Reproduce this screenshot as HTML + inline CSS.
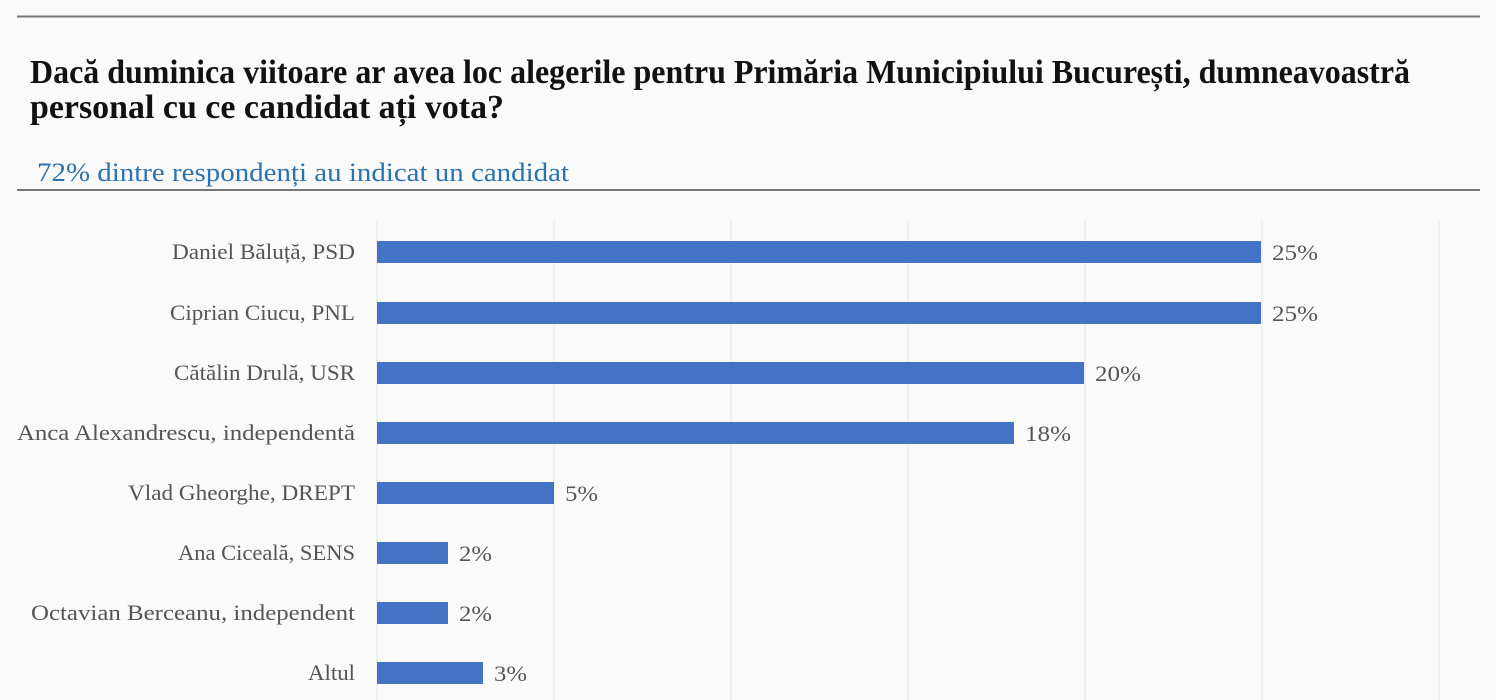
<!DOCTYPE html>
<html><head><meta charset="utf-8"><style>
html,body{margin:0;padding:0;background:#fafafa;}
svg{display:block;}
</style></head><body>
<svg width="1496" height="700" viewBox="0 0 1496 700" xmlns="http://www.w3.org/2000/svg">
<rect width="1496" height="700" fill="#fafafa"/>
<line x1="17" y1="16.5" x2="1480" y2="16.5" stroke="#777" stroke-width="2"/>
<g font-family="Liberation Serif, serif" font-weight="bold" font-size="34" fill="#111">
<text x="30" y="83" textLength="1380" lengthAdjust="spacingAndGlyphs">Dacă duminica viitoare ar avea loc alegerile pentru Primăria Municipiului București, dumneavoastră</text>
<text x="30" y="118" textLength="474" lengthAdjust="spacingAndGlyphs">personal cu ce candidat ați vota?</text>
</g>
<text x="37" y="181" font-family="Liberation Serif, serif" font-size="26" fill="#2a72b0" textLength="532" lengthAdjust="spacingAndGlyphs">72% dintre respondenți au indicat un candidat</text>
<line x1="17" y1="190" x2="1480" y2="190" stroke="#777" stroke-width="2"/>
<g stroke="#e6e6e6" stroke-width="1">
<line x1="377" y1="220" x2="377" y2="700"/><line x1="554" y1="220" x2="554" y2="700"/>
<line x1="731" y1="220" x2="731" y2="700"/><line x1="908" y1="220" x2="908" y2="700"/>
<line x1="1085" y1="220" x2="1085" y2="700"/><line x1="1262" y1="220" x2="1262" y2="700"/>
<line x1="1439" y1="220" x2="1439" y2="700"/>
</g>
<g fill="#4472c4">
<rect x="377" y="241" width="884" height="22"/>
<rect x="377" y="302" width="884" height="22"/>
<rect x="377" y="362" width="707" height="22"/>
<rect x="377" y="422" width="637" height="22"/>
<rect x="377" y="482" width="177" height="22"/>
<rect x="377" y="542" width="71" height="22"/>
<rect x="377" y="602" width="71" height="22"/>
<rect x="377" y="662" width="106" height="22"/>
</g>
<g font-family="Liberation Serif, serif" font-size="22" fill="#555" lengthAdjust="spacingAndGlyphs">
<text x="172" y="259" textLength="183" lengthAdjust="spacingAndGlyphs">Daniel Băluță, PSD</text>
<text x="170" y="320" textLength="185" lengthAdjust="spacingAndGlyphs">Ciprian Ciucu, PNL</text>
<text x="174" y="380" textLength="181" lengthAdjust="spacingAndGlyphs">Cătălin Drulă, USR</text>
<text x="17" y="440" textLength="338" lengthAdjust="spacingAndGlyphs">Anca Alexandrescu, independentă</text>
<text x="128" y="500" textLength="227" lengthAdjust="spacingAndGlyphs">Vlad Gheorghe, DREPT</text>
<text x="178" y="560" textLength="177" lengthAdjust="spacingAndGlyphs">Ana Ciceală, SENS</text>
<text x="31" y="620" textLength="324" lengthAdjust="spacingAndGlyphs">Octavian Berceanu, independent</text>
<text x="308" y="680" textLength="47" lengthAdjust="spacingAndGlyphs">Altul</text>
</g>
<g font-family="Liberation Serif, serif" font-size="22" fill="#555">
<text x="1272" y="260" textLength="46" lengthAdjust="spacingAndGlyphs">25%</text>
<text x="1272" y="321" textLength="46" lengthAdjust="spacingAndGlyphs">25%</text>
<text x="1095" y="381" textLength="46" lengthAdjust="spacingAndGlyphs">20%</text>
<text x="1025" y="441" textLength="46" lengthAdjust="spacingAndGlyphs">18%</text>
<text x="565" y="501" textLength="33" lengthAdjust="spacingAndGlyphs">5%</text>
<text x="459" y="561" textLength="33" lengthAdjust="spacingAndGlyphs">2%</text>
<text x="459" y="621" textLength="33" lengthAdjust="spacingAndGlyphs">2%</text>
<text x="494" y="681" textLength="33" lengthAdjust="spacingAndGlyphs">3%</text>
</g>
</svg>
</body></html>
